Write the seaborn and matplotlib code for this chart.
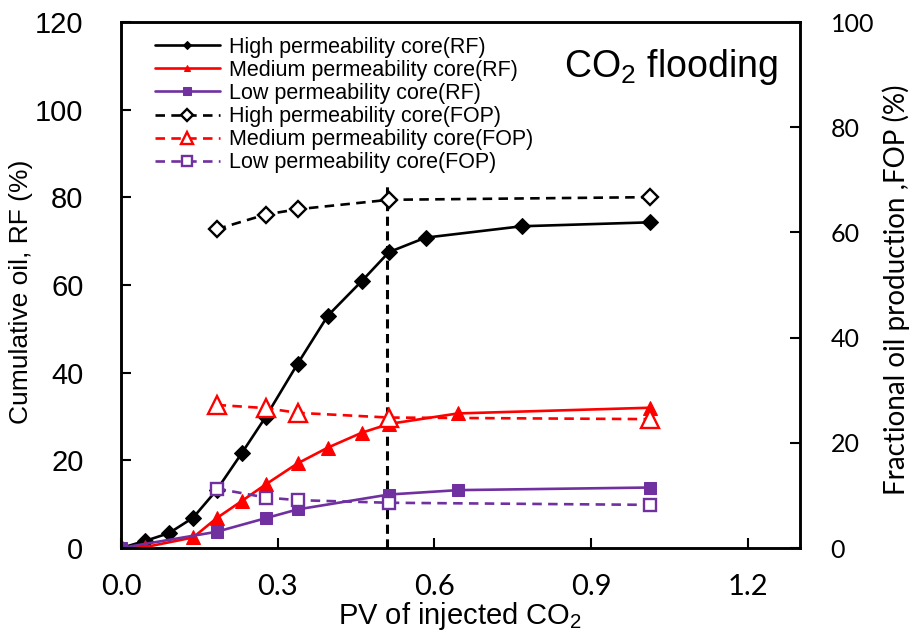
import matplotlib
matplotlib.use("Agg")
import matplotlib.pyplot as plt
import seaborn as sns

# ---------------- data ----------------
high_rf_x = [0.0, 0.046, 0.092, 0.138, 0.183, 0.231, 0.277, 0.338, 0.396, 0.461, 0.513, 0.583, 0.767, 1.013]
high_rf_y = [0.0, 1.6, 3.4, 6.9, 13.2, 21.6, 29.9, 42.0, 53.0, 60.9, 67.5, 70.8, 73.4, 74.3]

med_rf_x = [0.0, 0.046, 0.138, 0.183, 0.231, 0.277, 0.338, 0.396, 0.461, 0.513, 0.645, 1.013]
med_rf_y = [0.0, 0.2, 2.4, 6.8, 10.7, 14.5, 19.3, 22.9, 26.3, 28.3, 30.7, 32.0]

low_rf_x = [0.0, 0.183, 0.277, 0.338, 0.513, 0.645, 1.013]
low_rf_y = [0.0, 3.7, 6.8, 8.8, 12.2, 13.2, 13.8]

fop_x = [0.183, 0.277, 0.338, 0.513, 1.013]
high_fop = [60.6, 63.4, 64.4, 66.2, 66.7]
med_fop = [27.2, 26.6, 25.7, 24.8, 24.5]
low_fop = [11.3, 9.6, 9.1, 8.6, 8.2]

breakthrough_x = [0.51, 0.51]
breakthrough_y = [0.0, 83.0]

labels = ["High permeability core(RF)", "Medium permeability core(RF)", "Low permeability core(RF)",
          "High permeability core(FOP)", "Medium permeability core(FOP)", "Low permeability core(FOP)"]
x_ticks = [0.0, 0.3, 0.6, 0.9, 1.2]
left_ticks = [0, 20, 40, 60, 80, 100, 120]
right_ticks = [0, 20, 40, 60, 80, 100]

BLACK, RED, PURPLE = "#000000", "#FF0000", "#7030A0"

# ---------------- style ----------------
sns.set_style("ticks")
plt.rcParams["font.family"] = ["Liberation Sans", "DejaVu Sans"]
plt.rcParams["mathtext.default"] = "regular"
for k in ("text.color", "axes.labelcolor", "xtick.color", "ytick.color", "axes.edgecolor"):
    plt.rcParams[k] = "black"

fig = plt.figure(figsize=(9.15, 6.39), dpi=100)
ax = fig.add_axes([121 / 915, 1 - 548 / 639, 679 / 915, 526 / 639])
ax2 = ax.twinx()

dash = (0, (3.6, 2.4))
lw = 1.9

# RF series (left axis)
sns.lineplot(x=high_rf_x, y=high_rf_y, ax=ax, color=BLACK, marker="D", markersize=8.5,
             markeredgecolor=BLACK, markerfacecolor=BLACK, linewidth=lw, sort=False, label=labels[0])
sns.lineplot(x=med_rf_x, y=med_rf_y, ax=ax, color=RED, marker="^", markersize=9.5,
             markeredgecolor=RED, markerfacecolor=RED, linewidth=lw, sort=False, label=labels[1])
sns.lineplot(x=low_rf_x, y=low_rf_y, ax=ax, color=PURPLE, marker="s", markersize=9,
             markeredgecolor=PURPLE, markerfacecolor=PURPLE, linewidth=lw, sort=False, label=labels[2])

# breakthrough line
ax.plot(breakthrough_x, breakthrough_y, color=BLACK, linewidth=2.2, linestyle=(0, (3.0, 1.8)), zorder=1)

# FOP series (right axis)
sns.lineplot(x=fop_x, y=high_fop, ax=ax2, color=BLACK, marker="D", markersize=8,
             markeredgecolor=BLACK, markerfacecolor="white", markeredgewidth=1.7,
             linewidth=lw, linestyle=dash, sort=False, label=labels[3])
sns.lineplot(x=fop_x, y=med_fop, ax=ax2, color=RED, marker="^", markersize=12.5,
             markeredgecolor=RED, markerfacecolor="white", markeredgewidth=1.7,
             linewidth=lw, linestyle=dash, sort=False, label=labels[4])
sns.lineplot(x=fop_x, y=low_fop, ax=ax2, color=PURPLE, marker="s", markersize=9,
             markeredgecolor=PURPLE, markerfacecolor="white", markeredgewidth=1.7,
             linewidth=lw, linestyle=dash, sort=False, label=labels[5])

ax.set_xlim(0, 1.3)
ax.set_ylim(0, 120)
ax2.set_ylim(0, 100)

ax.set_xticks(x_ticks)
ax.set_xticklabels([f"{v:.1f}" for v in x_ticks], fontsize=21, family=["Lato", "DejaVu Sans"])
ax.set_yticks(left_ticks)
ax.set_yticklabels([str(v) for v in left_ticks], fontsize=21)
ax2.set_yticks(right_ticks)
ax2.set_yticklabels([str(v) for v in right_ticks], fontsize=18, family=["Lato", "DejaVu Sans"])

ax.tick_params(axis="x", direction="in", length=7, width=1.5, pad=19, top=False)
ax.tick_params(axis="y", direction="in", length=7, width=1.5, pad=27, right=False)
ax2.tick_params(axis="y", direction="in", length=7, width=1.5, pad=22)

for a in (ax, ax2):
    for s in a.spines.values():
        s.set_linewidth(1.8)
        s.set_color("black")
        s.set_visible(True)

ax.set_xlabel("PV of injected CO$_2$", fontsize=21)
ax.set_ylabel("Cumulative oil, RF (%)", fontsize=19)
ax2.set_ylabel("Fractional oil production ,FOP (%)", fontsize=20, family=["Lato", "DejaVu Sans"])
ax.xaxis.set_label_coords(0.50, -0.098)
ax.yaxis.set_label_coords(-0.13, 0.487)
ax2.yaxis.set_label_coords(1.122, 0.491)

ax.text(0.653, 0.915, "CO$_2$ flooding", transform=ax.transAxes, fontsize=27,
        ha="left", va="center")

# legend
h1, l1 = ax.get_legend_handles_labels()
h2, l2 = ax2.get_legend_handles_labels()
if ax.get_legend():
    ax.get_legend().remove()
if ax2.get_legend():
    ax2.get_legend().remove()
leg = ax2.legend(h1 + h2, l1 + l2, loc="upper left", bbox_to_anchor=(0.05, 0.972),
                 frameon=False, fontsize=15.5, handlelength=3.0, handletextpad=0.45,
                 labelspacing=0.1, borderpad=0, borderaxespad=0)
small = [4.5, 5, 6, 6.5, 8.5, 7]
for hnd, ms in zip(leg.legend_handles, small):
    hnd.set_markersize(ms)

fig.savefig("out.png", dpi=100)
